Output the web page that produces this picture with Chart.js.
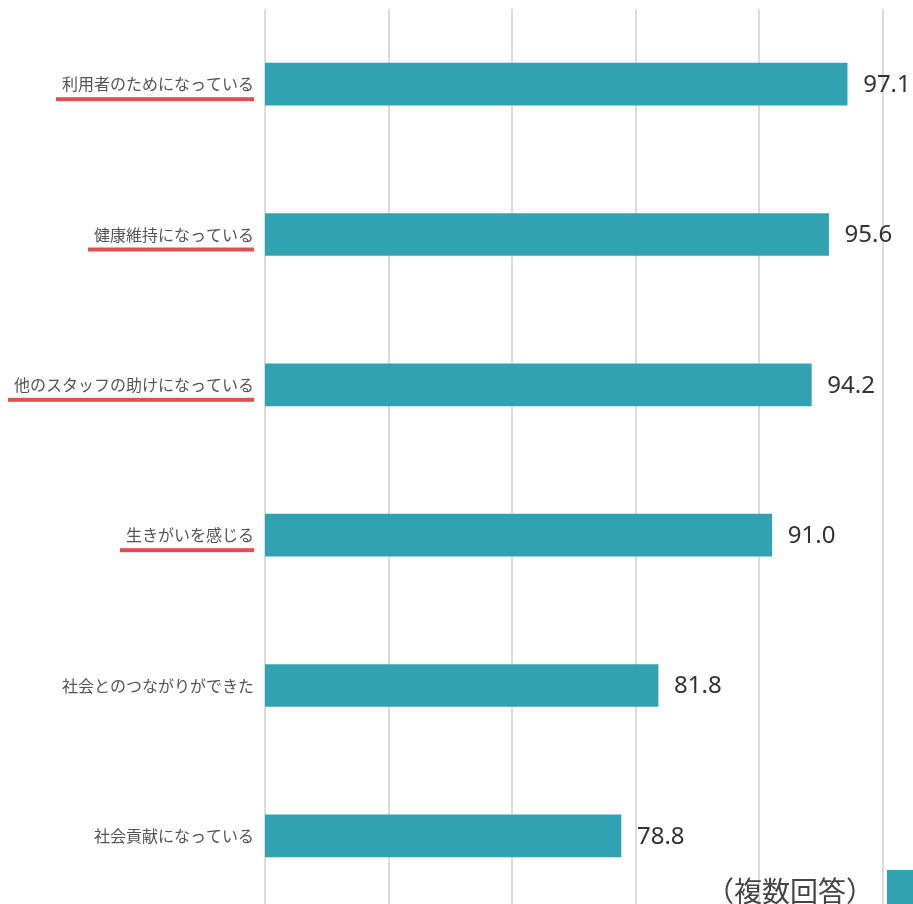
<!DOCTYPE html>
<html>
<head>
<meta charset="utf-8">
<script src="https://cdn.jsdelivr.net/npm/chart.js@4/dist/chart.umd.min.js"></script>
<style>
html,body{margin:0;padding:0;overflow:hidden;background:#fff;}
#wrap{position:absolute;left:0;top:0;width:960px;height:960px;}
</style>
</head>
<body>
<div id="wrap"><canvas id="chart"></canvas></div>
<script>
const categories=["利用者のためになっている","健康維持になっている","他のスタッフの助けになっている","生きがいを感じる","社会とのつながりができた","社会貢献になっている"];
const values=[97.1,95.6,94.2,91.0,81.8,78.8];
const underlined=[true,true,true,true,false,false];
const axisMin=50;
const axisMax=100;
const axisStep=10;
const legendText="（複数回答）";

const barColor="#30a2b2";
const labelFont='16px "Noto Sans CJK JP", sans-serif';

// numbers at the end of each bar
const valueLabels={
    id:"valueLabels",
    afterDatasetsDraw(chart){
        const ctx=chart.ctx;
        const meta=chart.getDatasetMeta(0);
        ctx.save();
        ctx.font='24px "Noto Sans", "DejaVu Sans", sans-serif';
        ctx.fillStyle="#333";
        ctx.textAlign="left";
        ctx.textBaseline="middle";
        meta.data.forEach((bar,i)=>{
            ctx.fillText(values[i].toFixed(1),bar.x+16,bar.y+1);
        });
        ctx.restore();
    }
};

// red lines under the highlighted category labels
const underlines={
    id:"underlines",
    afterDraw(chart){
        const ctx=chart.ctx;
        const y=chart.scales.y;
        ctx.save();
        ctx.font=labelFont;
        ctx.fillStyle="#e05050";
        const right=y.right-11;
        categories.forEach((c,i)=>{
            if(!underlined[i]) return;
            const w=ctx.measureText(c).width;
            const cy=y.getPixelForValue(i);
            ctx.fillRect(right-w-6,cy+13,w+6,4);
        });
        ctx.restore();
    }
};

// note + colour box at the bottom right
const notePlugin={
    id:"notePlugin",
    afterDraw(chart){
        const ctx=chart.ctx;
        ctx.save();
        ctx.font='28px "Noto Sans CJK JP", sans-serif';
        ctx.fillStyle="#444";
        ctx.textAlign="right";
        ctx.textBaseline="middle";
        ctx.fillText(legendText,874,891);
        ctx.fillStyle=barColor;
        ctx.fillRect(887,870,40,40);
        ctx.restore();
    }
};

new Chart(document.getElementById("chart"),{
    type:"bar",
    data:{
        labels:categories,
        datasets:[{
            label:legendText,
            data:values,
            backgroundColor:barColor,
            barThickness:42
        }]
    },
    options:{
        indexAxis:"y",
        responsive:true,
        maintainAspectRatio:false,
        animation:false,
        layout:{padding:{top:9,right:77,bottom:49,left:0}},
        plugins:{
            legend:{display:false},
            tooltip:{enabled:false}
        },
        scales:{
            x:{
                min:axisMin,
                max:axisMax,
                ticks:{stepSize:axisStep,display:false},
                grid:{color:"#dcdcdc",lineWidth:2,drawTicks:false},
                border:{display:false}
            },
            y:{
                grid:{display:false,drawTicks:false},
                border:{display:false},
                ticks:{color:"#555",font:{size:16,family:'"Noto Sans CJK JP", sans-serif'},padding:11},
                afterFit(s){ s.width=265; s.paddingTop=0; s.paddingBottom=0; }
            }
        }
    },
    plugins:[valueLabels,underlines,notePlugin]
});
</script>
</body>
</html>
